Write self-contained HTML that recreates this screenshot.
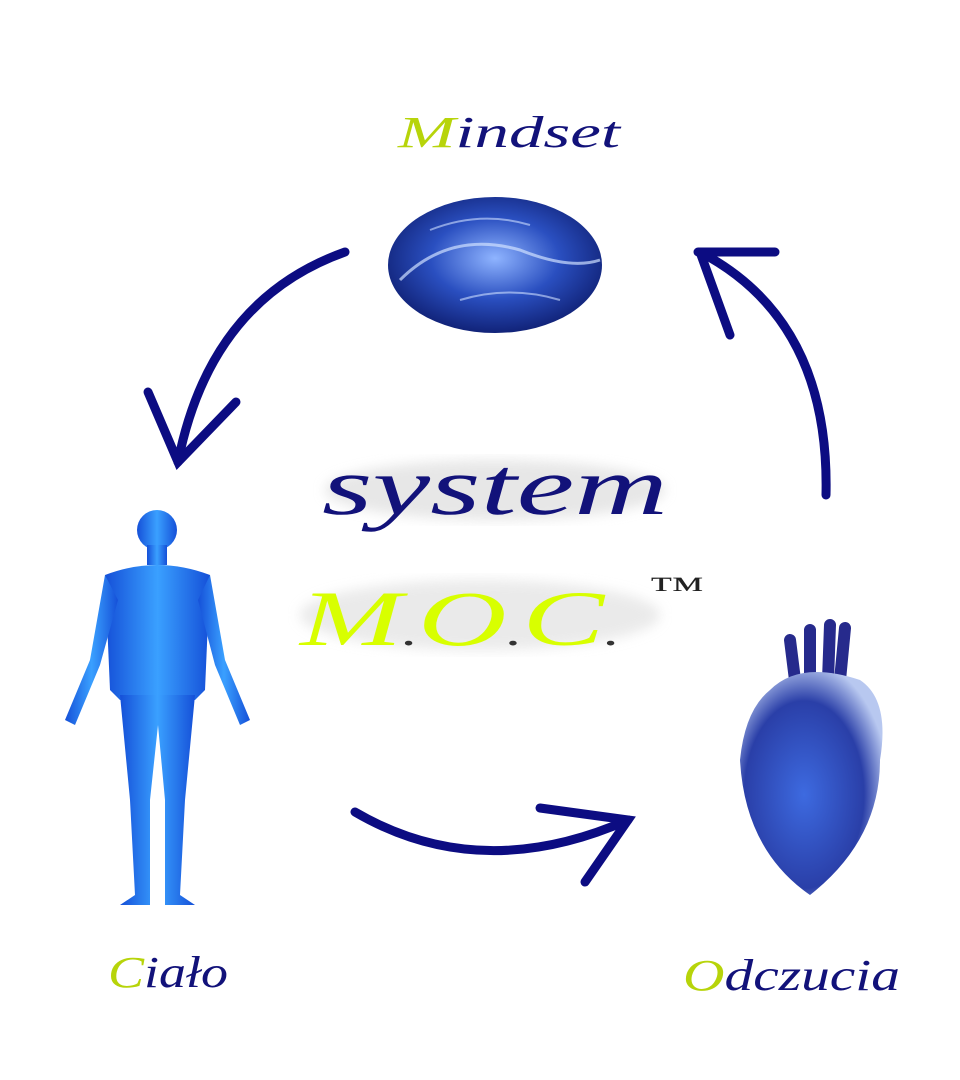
<!DOCTYPE html>
<html><head><meta charset="utf-8"><style>
html,body{margin:0;padding:0;background:#fff}
svg{display:block}
</style></head><body>
<svg width="960" height="1080" viewBox="0 0 960 1080" xmlns="http://www.w3.org/2000/svg">
<defs>
<radialGradient id="br" cx="50%" cy="45%" r="60%"><stop offset="0" stop-color="#8fb4ff"/><stop offset="0.5" stop-color="#2a4fc0"/><stop offset="1" stop-color="#0c1a6a"/></radialGradient>
<linearGradient id="bd" x1="0" y1="0" x2="1" y2="0"><stop offset="0" stop-color="#1550d8"/><stop offset="0.5" stop-color="#3aa0ff"/><stop offset="1" stop-color="#1550d8"/></linearGradient>
<radialGradient id="ht" cx="45%" cy="55%" r="60%"><stop offset="0" stop-color="#3d6ae0"/><stop offset="0.7" stop-color="#2a3fa8"/><stop offset="1" stop-color="#b8c8f0"/></radialGradient>
<filter id="sh"><feGaussianBlur stdDeviation="6"/></filter>
</defs>
<g fill="none" stroke="#0c0c82" stroke-linecap="round" stroke-width="9">
<path d="M345 252 Q210 300 178 462"/>
<path d="M148 392 L178 462 L236 402"/>
<path d="M826 495 Q830 320 700 252"/>
<path d="M698 252 L775 252 M700 252 L730 335"/>
<path d="M355 812 Q480 885 628 820"/>
<path d="M540 808 L628 820 L585 882"/>
</g>
<ellipse cx="495" cy="265" rx="107" ry="68" fill="url(#br)"/>
<path d="M400 280 Q450 230 520 250 Q570 270 600 260" stroke="#cfe0ff" stroke-width="3" fill="none" opacity="0.7"/>
<path d="M430 230 Q480 210 530 225 M460 300 Q510 285 560 300" stroke="#cfe0ff" stroke-width="2" fill="none" opacity="0.6"/>
<g fill="url(#bd)">
<circle cx="157" cy="530" r="20"/>
<rect x="147" y="545" width="20" height="20"/>
<path d="M105 575 Q157 555 210 575 L205 690 L195 700 L120 700 L110 690 Z"/>
<path d="M105 575 L90 660 L65 720 L75 725 L100 665 L118 600 Z"/>
<path d="M210 575 L225 660 L250 720 L240 725 L215 665 L198 600 Z"/>
<path d="M120 695 L195 695 L185 800 L180 895 L195 905 L165 905 L165 800 L158 725 L150 800 L150 905 L120 905 L135 895 L130 800 Z"/>
</g>
<g>
<path d="M790 640 L795 680 M810 630 L810 680 M830 625 L828 680 M845 628 L840 680" stroke="#262a8c" stroke-width="12" stroke-linecap="round"/>
<path d="M770 690 Q800 660 860 680 Q890 700 880 760 Q880 840 810 895 Q745 850 740 760 Q745 710 770 690Z" fill="url(#ht)"/>
</g>
<ellipse cx="495" cy="490" rx="170" ry="30" fill="#ddd" filter="url(#sh)" opacity="0.7"/>
<ellipse cx="480" cy="615" rx="180" ry="35" fill="#ddd" filter="url(#sh)" opacity="0.6"/>
<g font-family="'Liberation Serif',serif" font-style="italic">
<text x="398" y="147" font-size="44" textLength="222" lengthAdjust="spacingAndGlyphs"><tspan fill="#b7d40a">M</tspan><tspan fill="#12127a">indset</tspan></text>
<text x="322" y="514" font-size="82" fill="#12127a" textLength="346" lengthAdjust="spacingAndGlyphs">system</text>
<text x="300" y="645" font-size="78" fill="#d8ff00" textLength="320" lengthAdjust="spacingAndGlyphs">M<tspan fill="#333" font-size="40">.</tspan>O<tspan fill="#333" font-size="40">.</tspan>C<tspan fill="#333" font-size="40">.</tspan></text>
<text x="648" y="600" font-size="34" fill="#222" textLength="56" lengthAdjust="spacingAndGlyphs">™</text>
<text x="108" y="987" font-size="44" textLength="120" lengthAdjust="spacingAndGlyphs"><tspan fill="#b7d40a">C</tspan><tspan fill="#12127a">iało</tspan></text>
<text x="683" y="990" font-size="44" textLength="217" lengthAdjust="spacingAndGlyphs"><tspan fill="#b7d40a">O</tspan><tspan fill="#12127a">dczucia</tspan></text>
</g>
</svg>
</body></html>
